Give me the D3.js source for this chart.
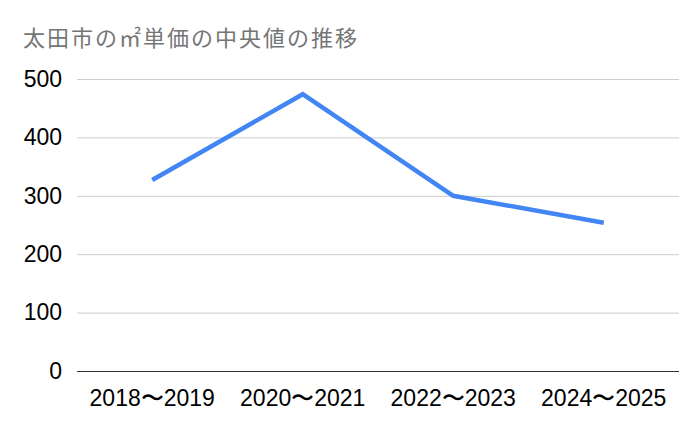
<!DOCTYPE html>
<html>
<head>
<meta charset="utf-8">
<script src="https://cdn.jsdelivr.net/npm/d3@7"></script>
<style>
  body { margin: 0; background: #fff; }
  svg { display: block; }
</style>
</head>
<body>
<svg></svg>
<script>
// chart data
let periods = ["2018〜2019", "2020〜2021", "2022〜2023", "2024〜2025"]
let medianPrice = [327, 474, 300, 254]
let yTicks = [0, 100, 200, 300, 400, 500]
let title = "太田市の㎡単価の中央値の推移"

let width = 700
let height = 433
let margin = { top: 79, right: 21, bottom: 62, left: 77 }

let svg = d3.select("svg")
  .attr("width", width)
  .attr("height", height)

let xScale = d3.scaleBand()
  .domain(periods)
  .range([margin.left, width - margin.right])

let yScale = d3.scaleLinear()
  .domain([0, 500])
  .range([height - margin.bottom, margin.top])

// title
svg.append("text")
  .attr("x", 23)
  .attr("y", 46)
  .attr("fill", "#757575")
  .style("font-family", "'Noto Sans CJK JP', sans-serif")
  .style("font-size", "22px")
  .style("letter-spacing", "2px")
  .text(title)

// gridlines + y labels
let yAxis = d3.axisLeft(yScale)
  .tickValues(yTicks)
  .tickSize(-(width - margin.left - margin.right))
  .tickPadding(15)

let gy = svg.append("g")
  .attr("transform", "translate(" + margin.left + ",0)")
  .call(yAxis)

gy.select(".domain").remove()
gy.selectAll(".tick line")
  .attr("stroke", d => d === 0 ? "#333" : "#ccc")
gy.selectAll(".tick text")
  .attr("fill", "#000")
  .style("font-family", "'Liberation Sans', Arial, sans-serif")
  .style("font-size", "23px")

// x labels
let xAxis = d3.axisBottom(xScale).tickSize(0).tickPadding(19)
let gx = svg.append("g")
  .attr("transform", "translate(0," + (height - margin.bottom) + ")")
  .call(xAxis)
gx.select(".domain").remove()
gx.selectAll(".tick text")
  .attr("fill", "#000")
  .style("font-family", "'Liberation Sans', Arial, sans-serif")
  .style("font-size", "23px")

// line
let line = d3.line()
  .x((d, i) => xScale(periods[i]) + xScale.bandwidth() / 2)
  .y(d => yScale(d))

svg.append("path")
  .datum(medianPrice)
  .attr("d", line)
  .attr("fill", "none")
  .attr("stroke", "#4285f4")
  .attr("stroke-width", 4.5)
  .attr("stroke-linejoin", "miter")
</script>
</body>
</html>
